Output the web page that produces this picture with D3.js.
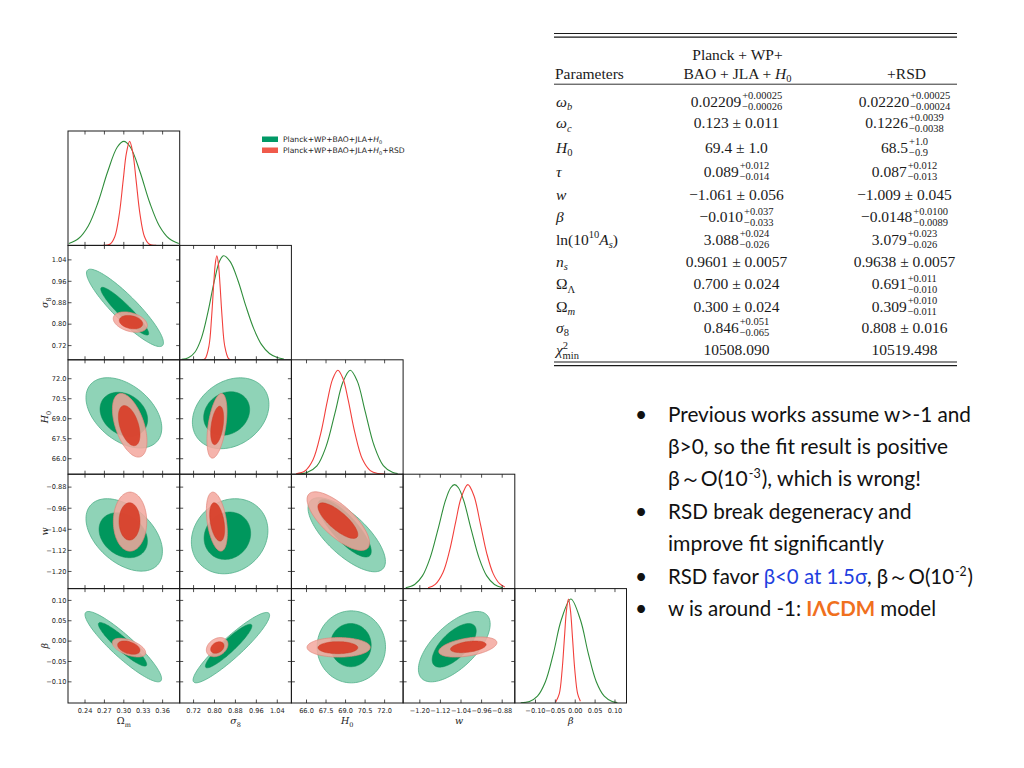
<!DOCTYPE html>
<html><head><meta charset="utf-8">
<script src="https://cdn.jsdelivr.net/npm/d3@7"></script>
<style>body{margin:0;background:#fff} svg{display:block}</style>
</head><body>
<svg id="chart" width="1024" height="768"></svg>
<script>
// ================= DATA =================
const paramLabels = [
  [["Ω",""],["m","sub"]],
  [["σ","i"],["8","sub"]],
  [["H","i"],["0","sub"]],
  [["w","i"]],
  [["β","i"]]
];
const paramDomains = [[0.2137,0.3864],[0.667,1.094],[64.84,73.42],[-1.265,-0.831],[-0.152,0.129]];
const paramTicks = [
  [0.24,0.27,0.30,0.33,0.36],
  [0.72,0.80,0.88,0.96,1.04],
  [66.0,67.5,69.0,70.5,72.0],
  [-1.20,-1.12,-1.04,-0.96,-0.88],
  [-0.10,-0.05,0.00,0.05,0.10]
];
const tickDecimals = [2,2,1,2,2];

const seriesNames = [
  [["Planck+WP+BAO+JLA+",""],["H","i"],["0","sub"]],
  [["Planck+WP+BAO+JLA+",""],["H","i"],["0","sub"],["+RSD",""]]
];

// 1D marginal posteriors: [value, relative density]
const margGreen = [
  [[0.215,0.018],[0.23,0.066],[0.245,0.187],[0.26,0.412],[0.275,0.708],[0.29,0.946],[0.30,1],[0.31,0.946],[0.325,0.708],[0.34,0.412],[0.355,0.187],[0.37,0.066],[0.385,0.018]],
  [[0.675,0.004],[0.70,0.019],[0.725,0.073],[0.75,0.209],[0.775,0.458],[0.80,0.766],[0.82,0.952],[0.835,1],[0.86,0.944],[0.89,0.76],[0.92,0.516],[0.95,0.30],[0.98,0.146],[1.01,0.061],[1.04,0.022],[1.065,0.008]],
  [[65.3,0.002],[66.0,0.013],[66.8,0.08],[67.5,0.265],[68.2,0.595],[68.8,0.887],[69.36,1],[69.9,0.895],[70.5,0.607],[71.2,0.273],[71.9,0.083],[72.6,0.018],[73.0,0.006]],
  [[-1.255,0.008],[-1.22,0.04],[-1.19,0.122],[-1.16,0.296],[-1.13,0.565],[-1.10,0.85],[-1.08,0.97],[-1.065,1],[-1.05,0.97],[-1.03,0.85],[-1.00,0.565],[-0.97,0.296],[-0.94,0.122],[-0.91,0.04],[-0.878,0.009]],
  [[-0.137,0.002],[-0.115,0.015],[-0.095,0.066],[-0.075,0.205],[-0.055,0.475],[-0.035,0.8],[-0.011,1],[0.013,0.8],[0.033,0.475],[0.053,0.205],[0.073,0.066],[0.093,0.015],[0.106,0.005]]
];
const margRed = [
  [[0.268,0],[0.279,0.014],[0.286,0.083],[0.293,0.301],[0.299,0.625],[0.304,0.887],[0.309,1],[0.314,0.887],[0.319,0.625],[0.325,0.301],[0.332,0.083],[0.339,0.014],[0.350,0]],
  [[0.752,0],[0.764,0.011],[0.779,0.135],[0.789,0.412],[0.797,0.726],[0.803,0.923],[0.809,1],[0.815,0.923],[0.821,0.726],[0.829,0.412],[0.839,0.135],[0.854,0.011],[0.866,0]],
  [[65.2,0.004],[65.9,0.033],[66.5,0.138],[67.1,0.396],[67.6,0.703],[68.0,0.912],[68.41,1],[68.8,0.92],[69.2,0.714],[69.7,0.407],[70.3,0.143],[70.9,0.035],[71.5,0.006],[72.0,0.001]],
  [[-1.168,0.008],[-1.14,0.041],[-1.11,0.155],[-1.085,0.36],[-1.06,0.649],[-1.04,0.869],[-1.0135,1],[-0.99,0.895],[-0.965,0.625],[-0.94,0.339],[-0.915,0.144],[-0.89,0.047],[-0.87,0.016]],
  [[-0.049,0.01],[-0.040,0.091],[-0.033,0.315],[-0.027,0.636],[-0.022,0.891],[-0.017,1],[-0.012,0.891],[-0.007,0.636],[-0.001,0.315],[0.006,0.091],[0.013,0.017]]
];

// 2D confidence contours: [xParam, yParam, centerX, centerY, halfExtentX, halfExtentY, correlation]
const green2 = [
  [0,1, 0.3018,0.8608,0.0595,0.1444,-0.90],
  [0,2, 0.3001,69.44,0.0586,2.636,-0.43],
  [1,2, 0.8618,69.41,0.1463,2.658,0.25],
  [0,3, 0.3006,-1.0614,0.0591,0.1374,-0.45],
  [1,3, 0.8579,-1.0664,0.1463,0.1424,0.15],
  [2,3, 69.09,-1.0607,2.972,0.1405,-0.72],
  [0,4, 0.2992,-0.0136,0.0592,0.0864,-0.91],
  [1,4, 0.8644,-0.0160,0.1463,0.0864,0.92],
  [2,4, 69.44,-0.0141,2.627,0.0884,0.0],
  [3,4, -1.0661,-0.0136,0.1394,0.0864,0.64]
];
const green1 = [
  [0,1, 0.3014,0.8484,0.0371,0.0893,-0.93],
  [0,2, 0.3000,69.33,0.0368,1.657,-0.24],
  [1,2, 0.8465,69.39,0.0879,1.634,0.18],
  [0,3, 0.2991,-1.0626,0.0374,0.0854,-0.26],
  [1,3, 0.8492,-1.0645,0.0890,0.0900,0.10],
  [2,3, 68.93,-1.036,2.045,0.1093,-0.80],
  [0,4, 0.2980,-0.0079,0.0374,0.0536,-0.92],
  [1,4, 0.8541,-0.0121,0.0890,0.0536,0.92],
  [2,4, 69.40,-0.0099,1.570,0.0531,0.0],
  [3,4, -1.0665,-0.0104,0.0856,0.0536,0.66]
];
const red2 = [
  [0,1, 0.3100,0.8079,0.0263,0.0379,-0.34],
  [0,2, 0.3091,68.51,0.0267,2.387,-0.50],
  [1,2, 0.8094,68.47,0.0382,2.425,0.45],
  [0,3, 0.3096,-1.011,0.0258,0.112,0.0],
  [1,3, 0.8090,-1.011,0.0401,0.112,-0.38],
  [2,3, 68.44,-1.009,2.398,0.1112,-0.74],
  [0,4, 0.3080,-0.0160,0.0258,0.0230,-0.54],
  [1,4, 0.8102,-0.0148,0.0413,0.0235,0.30],
  [2,4, 68.47,-0.0153,2.428,0.0240,0.0],
  [3,4, -1.0135,-0.0146,0.1129,0.0247,0.44]
];
const red1 = [
  [0,1, 0.3111,0.8075,0.0181,0.0251,-0.25],
  [0,2, 0.3083,68.48,0.0167,1.506,-0.45],
  [1,2, 0.8102,68.50,0.0248,1.446,0.39],
  [0,3, 0.3088,-1.0102,0.0162,0.071,0.0],
  [1,3, 0.8102,-1.0121,0.0287,0.0729,-0.39],
  [2,3, 68.41,-1.0072,1.532,0.0676,-0.78],
  [0,4, 0.3077,-0.0160,0.0173,0.0165,-0.40],
  [1,4, 0.8109,-0.0158,0.0256,0.0143,0.30],
  [2,4, 68.41,-0.0161,1.532,0.0148,0.0],
  [3,4, -1.0116,-0.0141,0.0693,0.0143,0.40]
];

// Table
const tableHeader = ["Parameters", "Planck + WP+", "BAO + JLA + ", "+RSD"];
const tableParams = [
  [["ω","i"],["b","isub"]],
  [["ω","i"],["c","isub"]],
  [["H","i"],["0","sub"]],
  [["τ","i"]],
  [["w","i"]],
  [["β","i"]],
  [["ln(10",""],["10","sup"],["A","i"],["s","isub"],[")",""]],
  [["n","i"],["s","isub"]],
  [["Ω",""],["Λ","sub"]],
  [["Ω",""],["m","isub"]],
  [["σ","i"],["8","sub"]],
  [["χ","i"],["2","sup"],["min","subback"]]
];
const tableColA = ["0.02209|+0.00025|−0.00026","0.123 ± 0.011","69.4 ± 1.0","0.089|+0.012|−0.014","−1.061 ± 0.056","−0.010|+0.037|−0.033","3.088|+0.024|−0.026","0.9601 ± 0.0057","0.700 ± 0.024","0.300 ± 0.024","0.846|+0.051|−0.065","10508.090"];
const tableColB = ["0.02220|+0.00025|−0.00024","0.1226|+0.0039|−0.0038","68.5|+1.0|−0.9","0.087|+0.012|−0.013","−1.009 ± 0.045","−0.0148|+0.0100|−0.0089","3.079|+0.023|−0.026","0.9638 ± 0.0057","0.691|+0.011|−0.010","0.309|+0.010|−0.011","0.808 ± 0.016","10519.498"];

// Bullet text lines: [hasBullet, segments]
const bulletLines = [
  [true,  [["Previous works assume w>-1 and",""]]],
  [false, [["β>0, so the fit result is positive",""]]],
  [false, [["β～O(10",""],["-3","sup"],["), which is wrong!",""]]],
  [true,  [["RSD break degeneracy and",""]]],
  [false, [["improve fit significantly",""]]],
  [true,  [["RSD favor ",""],["β<0 at 1.5σ","blue"],[", β～O(10",""],["-2","sup"],[")",""]]],
  [true,  [["w is around -1: ",""],["IΛCDM","orange"],[" model",""]]]
];

// ================= DRAW =================
const svg = d3.select("#chart");
svg.append("rect").attr("width",1024).attr("height",768).attr("fill","#fff");
const defs = svg.append("defs");

const L = 68, T = 131, PW = 111.7, PH = 114.4, N = paramDomains.length;
const xs = paramDomains.map((d,j)=> d3.scaleLinear().domain(d).range([L+j*PW, L+(j+1)*PW]));
const ys = paramDomains.map((d,i)=> d3.scaleLinear().domain(d).range([T+(i+1)*PH, T+i*PH]));
const yDiag = paramDomains.map((d,i)=> d3.scaleLinear().domain([0,1.1]).range([T+(i+1)*PH, T+i*PH]));
const fmt = (v,j) => v.toFixed(tickDecimals[j]).replace("-","−");

function rich(sel, segs, opt){
  const small = opt.small, up = opt.up, down = opt.down;
  let shift = 0;
  segs.forEach(([t,st])=>{
    let target = st.includes("sub") ? down : (st.includes("sup") ? -up : 0);
    const ts = sel.append("tspan").text(t);
    if (target - shift !== 0) ts.attr("dy", target - shift);
    shift = target;
    if (st.includes("i")) ts.attr("font-style","italic");
    if (target !== 0) ts.attr("font-size", small);
    if (st === "subback") ts.attr("dx", -opt.back);
  });
}

function ellipsePath(c){
  const [xi, yi, cx, cy, ax, ay, r] = c;
  const s = Math.sqrt(1 - r*r);
  const pts = d3.range(0, 96).map(k => {
    const t = k/96*2*Math.PI;
    return [xs[xi](cx + ax*Math.cos(t)), ys[yi](cy + ay*(r*Math.cos(t) + s*Math.sin(t)))];
  });
  return d3.line().curve(d3.curveCardinalClosed)(pts);
}

const plot = svg.append("g");
for (let i=0;i<N;i++) for (let j=0;j<=i;j++){
  defs.append("clipPath").attr("id",`cp${i}${j}`).append("rect")
    .attr("x",L+j*PW).attr("y",T+i*PH).attr("width",PW).attr("height",PH);
}

const layers = [
  {data: green2, fill:"#8fd3b7", stroke:"#52b08a", sw:0.8, op:1},
  {data: green1, fill:"#00975d", stroke:"#0a8c57", sw:0.5, op:1},
  {data: red2,   fill:"#f3a89e", stroke:"#e0857a", sw:0.8, op:0.86},
  {data: red1,   fill:"#d83e28", stroke:"#cc3a24", sw:0.5, op:0.92}
];
layers.forEach(ly=>{
  plot.append("g").selectAll("path").data(ly.data).join("path")
    .attr("clip-path", d=>`url(#cp${d[1]}${d[0]})`)
    .attr("d", ellipsePath)
    .attr("fill", ly.fill).attr("fill-opacity", ly.op)
    .attr("stroke", ly.stroke).attr("stroke-width", ly.sw).attr("stroke-opacity", ly.op);
});

[[margGreen,"#2f8d3b"],[margRed,"#f2403c"]].forEach(([m,col])=>{
  m.forEach((pts,i)=>{
    const line = d3.line().curve(d3.curveCatmullRom.alpha(0.5))
      .x(d=>xs[i](d[0])).y(d=>yDiag[i](d[1]));
    plot.append("path").attr("clip-path",`url(#cp${i}${i})`)
      .attr("d", line(pts)).attr("fill","none").attr("stroke",col).attr("stroke-width",1.1);
  });
});

const TL = 3.5, tickCol = "#222";
for (let i=0;i<N;i++) for (let j=0;j<=i;j++){
  const x0 = L+j*PW, y0 = T+i*PH;
  const g = plot.append("g");
  paramTicks[j].forEach(v=>{
    const x = xs[j](v);
    g.append("line").attr("x1",x).attr("x2",x).attr("y1",y0+PH).attr("y2",y0+PH-TL).attr("stroke",tickCol).attr("stroke-width",0.8);
    g.append("line").attr("x1",x).attr("x2",x).attr("y1",y0).attr("y2",y0+TL).attr("stroke",tickCol).attr("stroke-width",0.8);
  });
  if (i!==j){
    paramTicks[i].forEach(v=>{
      const y = ys[i](v);
      g.append("line").attr("x1",x0).attr("x2",x0+TL).attr("y1",y).attr("y2",y).attr("stroke",tickCol).attr("stroke-width",0.8);
      g.append("line").attr("x1",x0+PW).attr("x2",x0+PW-TL).attr("y1",y).attr("y2",y).attr("stroke",tickCol).attr("stroke-width",0.8);
    });
  }
  g.append("rect").attr("x",x0).attr("y",y0).attr("width",PW).attr("height",PH)
    .attr("fill","none").attr("stroke","#1a1a1a").attr("stroke-width",1);
}

const tickFont = "DejaVu Sans";
for (let j=0;j<N;j++){
  paramTicks[j].forEach(v=>{
    plot.append("text").attr("x", xs[j](v)).attr("y", T+N*PH+9.5)
      .attr("text-anchor","middle").attr("font-family",tickFont).attr("font-size",6.6)
      .attr("fill","#222").text(fmt(v,j));
  });
  const lab = plot.append("text").attr("x", L+(j+0.5)*PW).attr("y", T+N*PH+21)
    .attr("text-anchor","middle").attr("font-family","DejaVu Serif").attr("font-size",9.5).attr("fill","#222");
  rich(lab, paramLabels[j].map(([t,s])=>[t, s==="sub"? "sub" : (j>0 && s===""? "i": s)]), {small:6.5, up:4, down:2.5, back:0});
}
for (let i=1;i<N;i++){
  paramTicks[i].forEach(v=>{
    plot.append("text").attr("x", L-1.5).attr("y", ys[i](v)).attr("dy","0.35em")
      .attr("text-anchor","end").attr("font-family",tickFont).attr("font-size",6.6)
      .attr("fill","#222").text(fmt(v,i));
  });
  const cy = T+(i+0.5)*PH;
  const lab = plot.append("text").attr("transform",`translate(${L-20},${cy}) rotate(-90)`)
    .attr("text-anchor","middle").attr("font-family","DejaVu Serif").attr("font-size",9.5).attr("fill","#222");
  rich(lab, paramLabels[i], {small:6.5, up:4, down:2.5, back:0});
}

const legCols = ["#009966","#f05a4b"];
seriesNames.forEach((segs,k)=>{
  const y = 136.5 + k*11;
  svg.append("rect").attr("x",262).attr("y",y).attr("width",16).attr("height",5.5).attr("fill",legCols[k]);
  const t = svg.append("text").attr("x",283).attr("y",y+5.5).attr("font-family","DejaVu Sans")
    .attr("font-size",7.6).attr("fill","#222");
  rich(t, segs, {small:5, up:3, down:1.8, back:0});
});

// ================= TABLE =================
const tg = svg.append("g").attr("font-family","Liberation Serif").attr("fill","#1a1a1a");
const tx0 = 554, tx1 = 957, colA = 736.5, colB = 904.5;
[[33.5,1.2],[37.2,1.2],[84.2,0.9],[362,1.2],[365.7,1.2]].forEach(([y,w])=>{
  tg.append("line").attr("x1",tx0).attr("x2",tx1).attr("y1",y).attr("y2",y).attr("stroke","#1a1a1a").attr("stroke-width",w);
});
tg.append("text").attr("x",555).attr("y",78.5).attr("font-size",15.5).text(tableHeader[0]);
tg.append("text").attr("x",colA+1).attr("y",60).attr("font-size",15.5).attr("text-anchor","middle").text(tableHeader[1]);
const h2 = tg.append("text").attr("x",colA+1).attr("y",78.5).attr("font-size",15.5).attr("text-anchor","middle");
rich(h2, [[tableHeader[2],""],["H","i"],["0","sub"]], {small:10.5, up:6, down:3.5, back:0});
tg.append("text").attr("x",colB+2).attr("y",78.5).attr("font-size",15.5).attr("text-anchor","middle").text(tableHeader[3]);

const rowBase = [106.5,128.3,152.5,176.5,200,222.2,244.6,266.7,289.3,311.7,332.7,355];
function cell(cx, y, val){
  const parts = val.split("|");
  const g = tg.append("g");
  const t = g.append("text").attr("x",0).attr("y",y).attr("font-size",15.5).text(parts[0]);
  const w = t.node().getComputedTextLength();
  let sw = 0;
  if (parts.length>1){
    const a = g.append("text").attr("x",w+1).attr("y",y-7.5).attr("font-size",10.5).text(parts[1]);
    const b = g.append("text").attr("x",w+1).attr("y",y+3.5).attr("font-size",10.5).text(parts[2]);
    sw = 1 + Math.max(a.node().getComputedTextLength(), b.node().getComputedTextLength());
  }
  g.attr("transform",`translate(${cx-(w+sw)/2},0)`);
}
tableParams.forEach((segs,k)=>{
  const t = tg.append("text").attr("x",556).attr("y",rowBase[k]).attr("font-size",15.5);
  rich(t, segs, {small:10.5, up:6.5, down:3.5, back:5.5});
  cell(colA, rowBase[k], tableColA[k]);
  cell(colB, rowBase[k], tableColB[k]);
});

// ================= BULLETS =================
const bg = svg.append("g").attr("font-family","Lato, 'Open Sans', sans-serif").attr("fill","#111");
const lineLen = [303,280,253,243.5,216,305,268];
bulletLines.forEach(([hasB, segs],k)=>{
  const y = 421.5 + k*32.4;
  if (hasB) bg.append("text").attr("x",641).attr("y",y).attr("font-size",21).attr("text-anchor","middle").text("•");
  const t = bg.append("text").attr("x",668).attr("y",y).attr("font-size",21)
    .attr("textLength",lineLen[k]).attr("lengthAdjust","spacingAndGlyphs");
  let shift = 0;
  segs.forEach(([s,st])=>{
    const target = st==="sup" ? -8 : 0;
    const ts = t.append("tspan").text(s);
    if (target-shift!==0) ts.attr("dy", target-shift);
    if (st==="sup" || (shift!==0 && target===0)) ts.attr("dx", 1);
    shift = target;
    if (st==="sup") ts.attr("font-size",12.5);
    if (st==="blue") ts.attr("fill","#1f3fe0");
    if (st==="orange") ts.attr("fill","#f0701e").attr("font-weight","bold");
  });
});
</script>
</body></html>
